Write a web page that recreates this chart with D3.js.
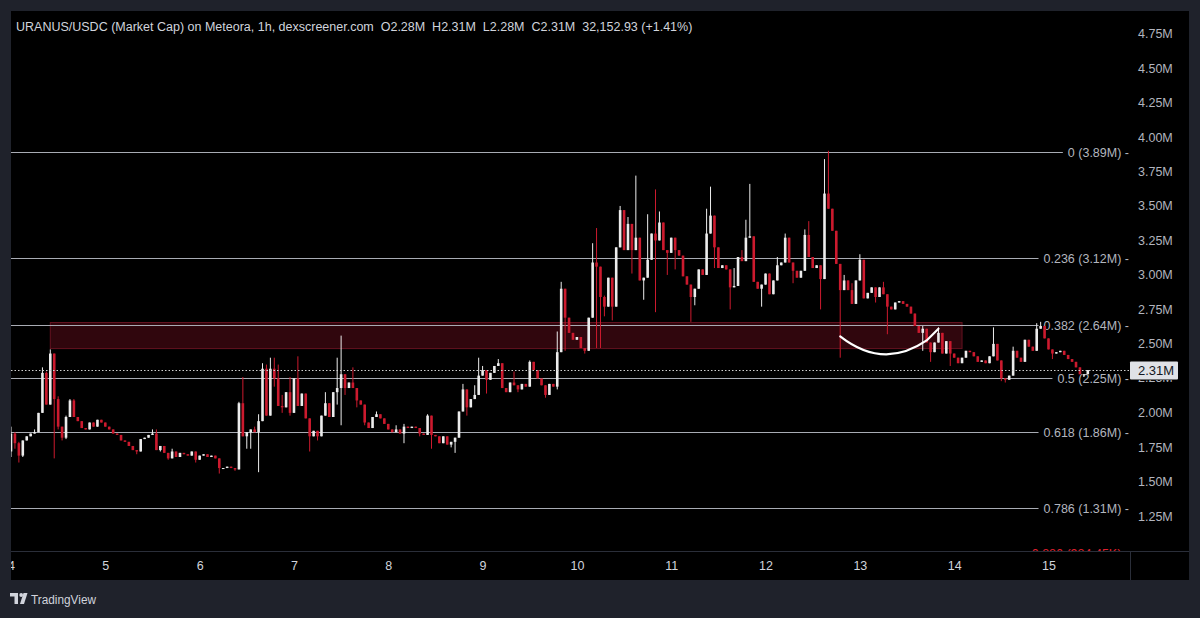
<!DOCTYPE html>
<html>
<head>
<meta charset="utf-8">
<script src="https://cdn.jsdelivr.net/npm/d3@7"></script>
<style>
    html, body { margin: 0; padding: 0; background: #1f222b; }
    svg { display: block; }
</style>
</head>
<body>
<div id="chart"></div>
<script>
// Hourly candles, day 4 00:00 -> day 15 10:00 (market cap in millions USD)
const firstOpen = 1.72;
const closes = [
    // day 4
    1.85, 1.78, 1.69, 1.80, 1.83, 1.85, 1.86, 2.00, 2.29, 2.06, 2.43, 2.10, 1.90, 1.82, 1.97, 2.09, 1.97, 1.94, 1.89, 1.88, 1.93, 1.90, 1.95, 1.93,
    // day 5
    1.90, 1.88, 1.85, 1.84, 1.80, 1.79, 1.76, 1.73, 1.72, 1.81, 1.82, 1.84, 1.85, 1.73, 1.76, 1.71, 1.67, 1.72, 1.68, 1.71, 1.70, 1.69, 1.72, 1.66,
    // day 6
    1.69, 1.70, 1.68, 1.69, 1.67, 1.60, 1.60, 1.61, 1.60, 1.59, 2.07, 1.83, 1.86, 1.88, 1.86, 1.94, 2.32, 1.98, 2.32, 2.25, 2.05, 2.04, 2.15, 2.00,
    // day 7
    2.25, 2.05, 2.14, 1.96, 1.83, 1.87, 1.83, 1.98, 2.07, 1.97, 2.15, 2.18, 2.28, 2.18, 2.22, 2.18, 2.09, 2.06, 1.93, 1.89, 1.97, 1.99, 1.96, 1.92,
    // day 8
    1.88, 1.86, 1.88, 1.85, 1.90, 1.89, 1.90, 1.89, 1.85, 1.84, 1.98, 1.84, 1.83, 1.78, 1.83, 1.77, 1.79, 1.82, 2.01, 2.17, 2.04, 2.10, 2.13, 2.27,
    // day 9
    2.31, 2.24, 2.29, 2.34, 2.36, 2.18, 2.15, 2.22, 2.20, 2.17, 2.21, 2.19, 2.37, 2.31, 2.25, 2.20, 2.13, 2.21, 2.19, 2.44, 2.90, 2.69, 2.58, 2.53,
    // day 10
    2.55, 2.47, 2.45, 2.69, 3.09, 3.06, 2.84, 2.77, 2.98, 2.77, 3.20, 3.47, 3.18, 3.37, 3.18, 3.27, 2.96, 2.98, 3.11, 3.30, 3.25, 3.38, 3.18, 3.16,
    // day 11
    3.27, 3.18, 3.14, 2.99, 2.93, 2.84, 2.90, 3.04, 3.00, 3.30, 3.43, 3.20, 3.05, 3.07, 3.04, 2.91, 2.92, 3.13, 3.10, 3.27, 3.28, 2.95, 2.90, 2.93,
    // day 12
    3.01, 2.86, 2.96, 3.07, 3.09, 3.27, 3.09, 3.03, 2.98, 3.03, 3.29, 3.13, 3.05, 3.07, 2.97, 3.59, 3.48, 3.32, 3.08, 2.89, 2.96, 2.89, 2.79, 2.96,
    // day 13
    3.11, 2.83, 2.87, 2.91, 2.84, 2.91, 2.86, 2.77, 2.75, 2.80, 2.81, 2.79, 2.77, 2.72, 2.63, 2.58, 2.61, 2.51, 2.44, 2.51, 2.58, 2.43, 2.52, 2.43,
    // day 14
    2.40, 2.36, 2.40, 2.45, 2.44, 2.41, 2.37, 2.38, 2.36, 2.41, 2.50, 2.38, 2.25, 2.24, 2.27, 2.45, 2.40, 2.37, 2.53, 2.48, 2.45, 2.61, 2.63, 2.54,
    // day 15
    2.46, 2.43, 2.44, 2.45, 2.42, 2.39, 2.37, 2.33, 2.28, 2.28, 2.31
];

// Wick extremes that reach beyond the body: [candle index, value]
const wickHigh = [
    [0, 1.90], [1, 1.86], [2, 1.79], [6, 1.88], [8, 2.33], [9, 2.30], [10, 2.46], [12, 2.12], [13, 1.90], [14, 1.98], [15, 2.10], [16, 2.10],
    [36, 1.88], [37, 1.88], [41, 1.74],
    [58, 2.08], [59, 2.26], [62, 1.90], [63, 1.99], [64, 2.36], [65, 2.35], [66, 2.40], [67, 2.40], [68, 2.35], [69, 2.13], [71, 2.26],
    [73, 2.41], [80, 2.15], [83, 2.40], [84, 2.56], [87, 2.33], [93, 2.01],
    [98, 1.91], [100, 1.92], [106, 1.99], [115, 2.21], [118, 2.20], [119, 2.40],
    [120, 2.34], [124, 2.39], [128, 2.30], [132, 2.38], [135, 2.24], [139, 2.59], [140, 2.95],
    [148, 3.23], [149, 3.34], [151, 2.85], [155, 3.50], [157, 3.42], [159, 3.72], [162, 3.44], [164, 3.62], [165, 3.46],
    [177, 3.48], [178, 3.64], [184, 3.05], [186, 3.18], [187, 3.40], [188, 3.66],
    [195, 3.13], [197, 3.30], [202, 3.33], [203, 3.39], [207, 3.84], [208, 3.90], [209, 3.48], [212, 3.00], [214, 2.94],
    [216, 3.15], [222, 2.95], [232, 2.63], [236, 2.62],
    [250, 2.62], [255, 2.48], [261, 2.65], [262, 2.66]
];
const wickLow = [
    [0, 1.68], [1, 1.74], [2, 1.64], [3, 1.68], [11, 1.67], [12, 1.88], [13, 1.80], [14, 1.81],
    [32, 1.70], [38, 1.72], [40, 1.66], [47, 1.64],
    [53, 1.56], [57, 1.58], [60, 1.74], [61, 1.74], [63, 1.57], [67, 2.19], [69, 2.00], [71, 1.98],
    [76, 1.72], [78, 1.80], [83, 2.06], [84, 1.91], [85, 2.13], [88, 2.04], [90, 1.91],
    [100, 1.78], [104, 1.83], [107, 1.74], [112, 1.75], [113, 1.71], [116, 1.98],
    [121, 2.14], [129, 2.15], [136, 2.11], [139, 2.17], [141, 2.45],
    [146, 2.43], [149, 2.47], [150, 2.47], [151, 2.70], [153, 2.67], [158, 3.01], [161, 2.82], [164, 2.73], [167, 3.00],
    [169, 3.04], [173, 2.66], [174, 2.78], [179, 3.05], [183, 2.75], [191, 2.77],
    [199, 2.94], [206, 2.75], [211, 2.40],
    [220, 2.80], [223, 2.57], [232, 2.45], [234, 2.37], [239, 2.34],
    [252, 2.23], [253, 2.22],
    [265, 2.39], [273, 2.26], [274, 2.28]
];

const dayTicks = [4, 5, 6, 7, 8, 9, 10, 11, 12, 13, 14, 15];
const priceTicks = [1.25, 1.5, 1.75, 2.0, 2.25, 2.5, 2.75, 3.0, 3.25, 3.5, 3.75, 4.0, 4.25, 4.5, 4.75];

const fibRatios = ["0", "0.236", "0.382", "0.5", "0.618", "0.786", "0.886"];
const fibValues = [3.89, 3.12, 2.64, 2.25, 1.86, 1.31, 0.98445];
const fibTexts = ["3.89M", "3.12M", "2.64M", "2.25M", "1.86M", "1.31M", "984.45K"];

// resistance zone and hand-drawn cup annotation, in (candle index, value)
const zoneSpan = [10, 242];
const zoneRange = [2.466, 2.655];
const cupPoints = [[211, 2.555], [222, 2.31], [233, 2.525], [236, 2.61]];

const lastPrice = 2.31;
const titleText = "URANUS/USDC (Market Cap) on Meteora, 1h, dexscreener.com  O2.28M  H2.31M  L2.28M  C2.31M  32,152.93 (+1.41%)";

// ---------------------------------------------------------------
const W = 1200, H = 618;
const pane = { left: 11, top: 11, right: 1189, bottom: 580 };
const plotRight = 1130, timeTop = 551;
const FONT = "'Liberation Sans', Arial, sans-serif";
const textCol = "#d1d4dc";
const bullCol = "#ececec", bearCol = "#cc1a2e";

const svg = d3.select("#chart").append("svg")
    .attr("width", W).attr("height", H);

svg.append("rect").attr("width", W).attr("height", H).attr("fill", "#1f222b");
svg.append("rect")
    .attr("x", pane.left).attr("y", pane.top)
    .attr("width", pane.right - pane.left).attr("height", pane.bottom - pane.top)
    .attr("fill", "#000");

const defs = svg.append("defs");
defs.append("clipPath").attr("id", "plot-clip").append("rect")
    .attr("x", pane.left).attr("y", pane.top)
    .attr("width", pane.right - pane.left).attr("height", timeTop - pane.top);
defs.append("clipPath").attr("id", "time-clip").append("rect")
    .attr("x", pane.left).attr("y", timeTop)
    .attr("width", plotRight - pane.left).attr("height", pane.bottom - timeTop);

const x = d3.scaleLinear().domain([0, 274]).range([11, 1087.8]);
const y = d3.scaleLinear().domain([1, 4]).range([550.8, 137]);

// build candles
const hiMap = new Map(wickHigh), loMap = new Map(wickLow);
const candles = closes.map((c, i) => {
    const o = i === 0 ? firstOpen : closes[i - 1];
    return {
        i, o, c,
        h: hiMap.has(i) ? hiMap.get(i) : Math.max(o, c),
        l: loMap.has(i) ? loMap.get(i) : Math.min(o, c)
    };
});

const plot = svg.append("g").attr("clip-path", "url(#plot-clip)");

// zone
plot.append("rect")
    .attr("x", x(zoneSpan[0])).attr("y", y(zoneRange[1]))
    .attr("width", x(zoneSpan[1]) - x(zoneSpan[0]))
    .attr("height", y(zoneRange[0]) - y(zoneRange[1]))
    .attr("fill", "#30060d")
    .attr("stroke", "#641220").attr("stroke-width", 1);

// fib levels
const fibG = plot.append("g");
fibValues.forEach((v, k) => {
    const yy = Math.round(y(v)) + 0.5;
    const isRed = k === fibValues.length - 1;
    const t = fibG.append("text")
        .attr("x", plotRight - 1).attr("y", yy)
        .attr("text-anchor", "end").attr("dominant-baseline", "central")
        .attr("fill", isRed ? "#e0202f" : "#b2b5be")
        .attr("font-family", FONT).attr("font-size", "12.5px")
        .text(`${fibRatios[k]} (${fibTexts[k]}) -`);
    const w = t.node().getComputedTextLength();
    fibG.insert("line", "text")
        .attr("x1", pane.left).attr("x2", plotRight - 1 - w - 5)
        .attr("y1", yy).attr("y2", yy)
        .attr("stroke", isRed ? "#e0202f" : "#a8abb3").attr("stroke-width", 1);
});

// candles
const bodyW = 2.6;
const cg = plot.append("g");
cg.selectAll("line.wick").data(candles).enter().append("line")
    .attr("class", "wick")
    .attr("x1", d => x(d.i)).attr("x2", d => x(d.i))
    .attr("y1", d => y(d.h)).attr("y2", d => y(d.l))
    .attr("stroke", d => d.c >= d.o ? bullCol : bearCol)
    .attr("stroke-width", 1);
cg.selectAll("rect.body").data(candles).enter().append("rect")
    .attr("class", "body")
    .attr("x", d => x(d.i) - bodyW / 2)
    .attr("y", d => y(Math.max(d.o, d.c)))
    .attr("width", bodyW)
    .attr("height", d => Math.max(1, Math.abs(y(d.o) - y(d.c))))
    .attr("fill", d => d.c >= d.o ? bullCol : bearCol);

// current price dotted line
const yLast = Math.round(y(lastPrice)) + 0.5;
plot.append("line")
    .attr("x1", pane.left).attr("x2", plotRight)
    .attr("y1", yLast).attr("y2", yLast)
    .attr("stroke", "#d0d0d0").attr("stroke-width", 1)
    .attr("stroke-dasharray", "1.5,2");

// cup annotation
const p = d3.path();
const cp = cupPoints.map(([i, v]) => [x(i), y(v)]);
p.moveTo(cp[0][0], cp[0][1]);
p.quadraticCurveTo(cp[1][0], cp[1][1], cp[2][0], cp[2][1]);
p.lineTo(cp[3][0], cp[3][1]);
plot.append("path").attr("d", p.toString())
    .attr("fill", "none").attr("stroke", "#ffffff")
    .attr("stroke-width", 2.2).attr("stroke-linecap", "round");

// price axis (the 2.25M label sits under the last-price tag, as in TradingView)
const yAxis = svg.append("g")
    .attr("transform", `translate(${plotRight},0)`)
    .call(d3.axisRight(y).tickValues(priceTicks.filter(v => Math.abs(y(v) - yLast) > 12))
        .tickSize(0).tickPadding(8)
        .tickFormat(d => d.toFixed(2) + "M"));
yAxis.select(".domain").remove();
yAxis.selectAll("text")
    .attr("fill", "#b2b5be").attr("font-family", FONT).attr("font-size", "12.5px");

// partly hidden tick label peeking out under the tag
defs.append("clipPath").attr("id", "tag-clip").append("rect")
    .attr("x", plotRight).attr("y", yLast + 9.5)
    .attr("width", pane.right - plotRight).attr("height", 20);
priceTicks.filter(v => Math.abs(y(v) - yLast) <= 12).forEach(v => {
    svg.append("text")
        .attr("clip-path", "url(#tag-clip)")
        .attr("x", plotRight + 8).attr("y", y(v))
        .attr("dominant-baseline", "central")
        .attr("fill", "#b2b5be").attr("font-family", FONT).attr("font-size", "12.5px")
        .text(v.toFixed(2) + "M");
});

// last price tag
svg.append("rect")
    .attr("x", plotRight).attr("y", yLast - 9)
    .attr("width", 48).attr("height", 18)
    .attr("fill", "#dfe1e6").attr("rx", 1);
svg.append("text")
    .attr("x", plotRight + 8).attr("y", yLast)
    .attr("dominant-baseline", "central")
    .attr("fill", "#131722").attr("font-family", FONT).attr("font-size", "13px")
    .text(lastPrice.toFixed(2) + "M");

// time axis
svg.append("line")
    .attr("x1", pane.left).attr("x2", pane.right)
    .attr("y1", timeTop + 0.5).attr("y2", timeTop + 0.5)
    .attr("stroke", "#2a2e39");
svg.append("line")
    .attr("x1", plotRight + 0.5).attr("x2", plotRight + 0.5)
    .attr("y1", timeTop).attr("y2", pane.bottom)
    .attr("stroke", "#2a2e39");
const xAxis = svg.append("g")
    .attr("clip-path", "url(#time-clip)")
    .append("g")
    .attr("transform", `translate(0,${timeTop})`)
    .call(d3.axisBottom(x).tickValues(dayTicks.map(d => (d - 4) * 24)).tickSize(0).tickPadding(10)
        .tickFormat((d, k) => dayTicks[k]));
xAxis.select(".domain").remove();
xAxis.selectAll("text")
    .attr("fill", textCol).attr("font-family", FONT).attr("font-size", "12.5px");

// title
svg.append("text")
    .attr("x", 16).attr("y", 31)
    .attr("fill", textCol).attr("font-family", FONT).attr("font-size", "12.5px")
    .attr("xml:space", "preserve")
    .style("white-space", "pre")
    .text(titleText);

// TradingView mark
const logo = svg.append("g").attr("fill", textCol);
logo.append("path").attr("d", "M10,593 H18 V604 H14.5 V596.5 H10 Z");
logo.append("circle").attr("cx", 21.2).attr("cy", 595).attr("r", 1.9);
logo.append("path").attr("d", "M23.5,593 H27.5 L24,604 H20 Z");
logo.append("text")
    .attr("x", 31).attr("y", 603.5)
    .attr("font-family", FONT).attr("font-size", "12.5px")
    .attr("textLength", 65).attr("lengthAdjust", "spacingAndGlyphs")
    .text("TradingView");
</script>
</body>
</html>
